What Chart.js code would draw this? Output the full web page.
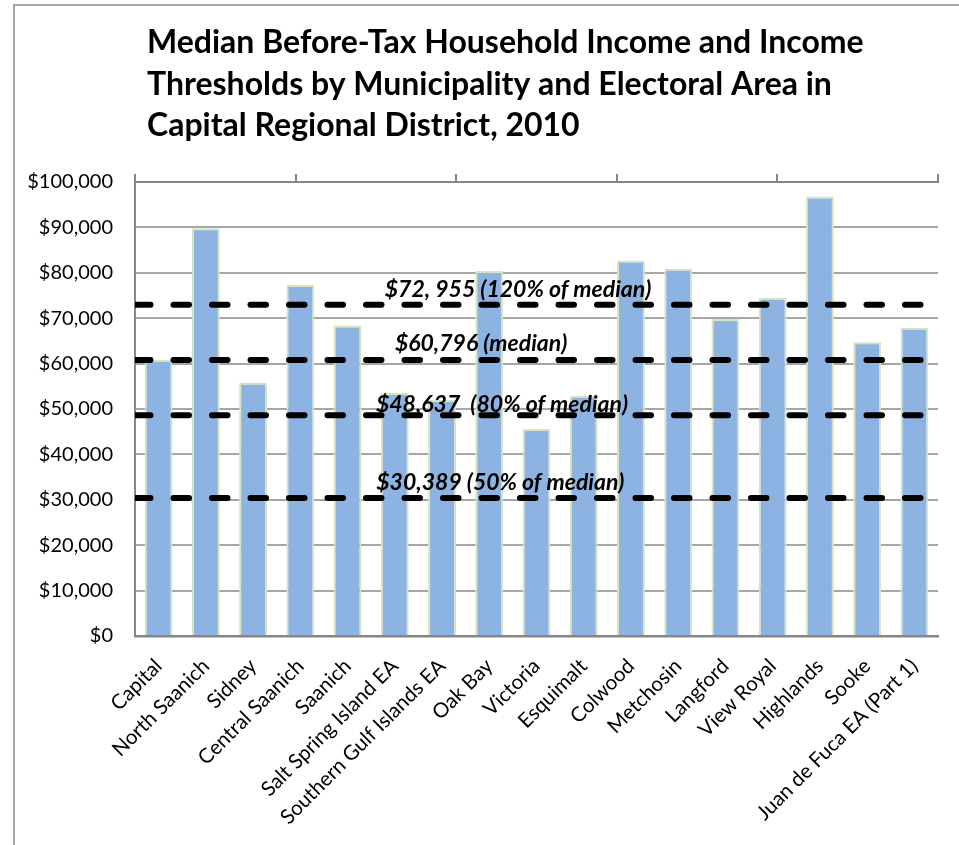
<!DOCTYPE html>
<html>
<head>
<meta charset="utf-8">
<title>Median Before-Tax Household Income, Capital Regional District 2010</title>
<script src="https://cdn.jsdelivr.net/npm/chart.js@4/dist/chart.umd.min.js"></script>
<style>
  body { margin: 0; background: #fff; overflow: hidden; }
  #frame { position: absolute; left: 13px; top: 4px; width: 1000px; height: 900px;
           border-top: 2px solid #a6a6a6; border-left: 2px solid #a6a6a6; }
  #grafico { position: absolute; left: 0; top: 0; }
</style>
</head>
<body>
<div id="frame"></div>
<canvas id="grafico" width="959" height="845"></canvas>
<script>
const municipios = ['Capital', 'North Saanich', 'Sidney', 'Central Saanich', 'Saanich',
  'Salt Spring Island EA', 'Southern Gulf Islands EA', 'Oak Bay', 'Victoria', 'Esquimalt',
  'Colwood', 'Metchosin', 'Langford', 'View Royal', 'Highlands', 'Sooke', 'Juan de Fuca EA (Part 1)'];
const rendaMediana = [60796, 89800, 55800, 77300, 68400, 53500, 52000, 80400, 45600, 52900,
  82700, 80900, 69800, 74500, 96800, 64700, 67900];

const limites = [72955, 60796, 48637, 30389];
const limitesTexto = ['$72, 955 (120% of median)', '$60,796 (median)', '$48,637  (80% of median)', '$30,389 (50% of median)'];

const yTicks = [0, 10000, 20000, 30000, 40000, 50000, 60000, 70000, 80000, 90000, 100000];

const titulo = ['Median Before-Tax Household Income and Income',
  'Thresholds by Municipality and Electoral Area in',
  'Capital Regional District, 2010'];

const cinzaEixo = '#868686';
const cinzaGrade = '#a6a6a6';

function dinheiro(v) {
    return '$' + v.toLocaleString('en-US');
}

// title lines, left aligned above the plot
const tituloPlugin = {
    id: 'tituloPlugin',
    afterDraw(chart) {
        const ctx = chart.ctx;
        ctx.save();
        ctx.font = 'bold 32px Lato';
        ctx.fillStyle = '#000';
        ctx.textBaseline = 'alphabetic';
        ctx.textAlign = 'left';
        titulo.forEach((linha, i) => ctx.fillText(linha, 147, 53 + i * 41.5));
        ctx.restore();
    }
};

// text over each dashed threshold line
const limitesPlugin = {
    id: 'limitesPlugin',
    afterDatasetsDraw(chart, args, opts) {
        const ctx = chart.ctx;
        const area = chart.chartArea;
        const y = chart.scales.y;
        ctx.save();
        ctx.font = 'italic bold 23px Lato';
        ctx.fillStyle = '#000';
        ctx.textAlign = 'center';
        ctx.textBaseline = 'alphabetic';
        limites.forEach((v, i) => {
            const px = area.left + opts.posX[i] * (area.right - area.left);
            ctx.fillText(limitesTexto[i], px, y.getPixelForValue(v) + opts.dy[i]);
        });
        ctx.restore();
    }
};

const linhas = limites.map(v => ({
    type: 'line',
    xAxisID: 'x2',
    data: [{ x: 0, y: v }, { x: 5, y: v }],
    borderColor: '#000',
    borderWidth: 6,
    borderDash: [15.5, 23],
    borderCapStyle: 'round',
    pointRadius: 0,
    order: 1
}));

new Chart(document.getElementById('grafico'), {
    type: 'bar',
    data: {
        labels: municipios,
        datasets: [{
            label: 'Median household income',
            data: rendaMediana,
            backgroundColor: '#8db3e2',
            borderColor: '#d7e4bd',
            borderWidth: 2,
            grouped: false,
            barPercentage: 0.59,
            categoryPercentage: 1,
            order: 2
        }, ...linhas]
    },
    options: {
        responsive: false,
        animation: false,
        layout: { padding: { top: 174, right: 21, left: 0, bottom: 0 } },
        plugins: {
            legend: { display: false },
            title: { display: false },
            tooltip: { enabled: false },
            limitesPlugin: { posX: [0.477, 0.431, 0.457, 0.455], dy: [-8, -9, -3, -8] }
        },
        scales: {
            x: {
                position: 'bottom',
                grid: { display: false },
                border: { color: cinzaEixo, width: 2.5 },
                ticks: {
                    minRotation: 45, maxRotation: 45, autoSkip: false,
                    padding: 10, color: '#000',
                    font: { family: 'Lato', size: 20.5 }
                },
                afterFit(s) { s.height = 209; }
            },
            x2: {
                type: 'linear',
                position: 'top',
                min: 0, max: 5,
                offset: false,
                grid: { offset: false, drawOnChartArea: false, drawTicks: true, tickLength: 8, color: cinzaEixo, lineWidth: 2 },
                border: { color: cinzaEixo, width: 2 },
                ticks: { display: false, stepSize: 1 },
                afterFit(s) { s.height = 8; }
            },
            y: {
                min: 0, max: 100000,
                grid: { color: cinzaGrade, lineWidth: 2, drawTicks: false },
                border: { color: cinzaEixo, width: 2 },
                ticks: {
                    padding: 22, color: '#000',
                    font: { family: 'Lato', size: 20 },
                    callback: v => dinheiro(v)
                },
                afterBuildTicks(s) { s.ticks = yTicks.map(v => ({ value: v })); },
                afterFit(s) { s.width = 135; }
            }
        }
    },
    plugins: [tituloPlugin, limitesPlugin]
});
</script>
</body>
</html>
